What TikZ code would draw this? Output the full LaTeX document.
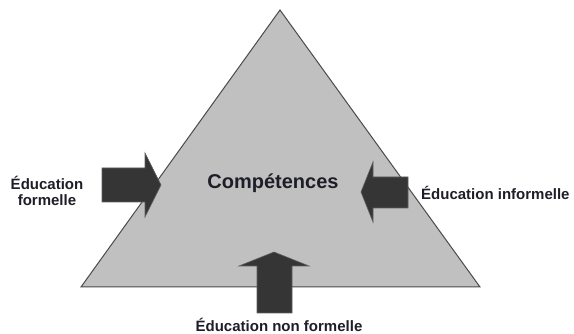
\documentclass[tikz,border=0pt]{standalone}
\usepackage{fontspec}
\setmainfont{Liberation Sans}
\usepackage{xcolor}
\definecolor{trifill}{HTML}{C0C0C0}
\definecolor{triline}{HTML}{4A4A4A}
\definecolor{arrowfill}{HTML}{353535}
\definecolor{labelink}{HTML}{1E1E28}
\tikzset{
  label text/.style={font=\bfseries\fontsize{15}{16}\selectfont,text=labelink,inner sep=0pt},
  big arrow/.style={fill=arrowfill,draw=arrowfill!80!white,line width=0.6pt,line join=miter}
}

\begin{document}
\begin{tikzpicture}[x=1pt,y=1pt]
      \useasboundingbox (0,0) rectangle (574,334);
      \filldraw[fill=trifill,draw=triline,line width=1pt,line join=miter] (81,47) -- (480,47) -- (280,324) -- cycle;
      % the three arrows
      \filldraw[big arrow] (102,166) -- (145,166) -- (145,181) -- (161,149) -- (145,117) -- (145,132) -- (102,132) -- cycle;
      \filldraw[big arrow] (408,157) -- (373,157) -- (373,172) -- (361,142) -- (373,112) -- (373,126) -- (408,126) -- cycle;
      \filldraw[big arrow] (257,21) -- (257,68) -- (239,68) -- (274,82) -- (309,68) -- (292,68) -- (292,21) -- cycle;
      \node (comp) at (273,145) [anchor=base,label text,font=\bfseries\fontsize{20}{22}\selectfont] {Compétences};
      \node (formal) at (47,143) [label text,align=center] {Éducation\\formelle};
      \node (informal) at (421,141) [label text,anchor=west] {Éducation informelle};
      \node (nonformal) at (279,9) [label text] {Éducation non formelle};
    \end{tikzpicture}
\end{document}
